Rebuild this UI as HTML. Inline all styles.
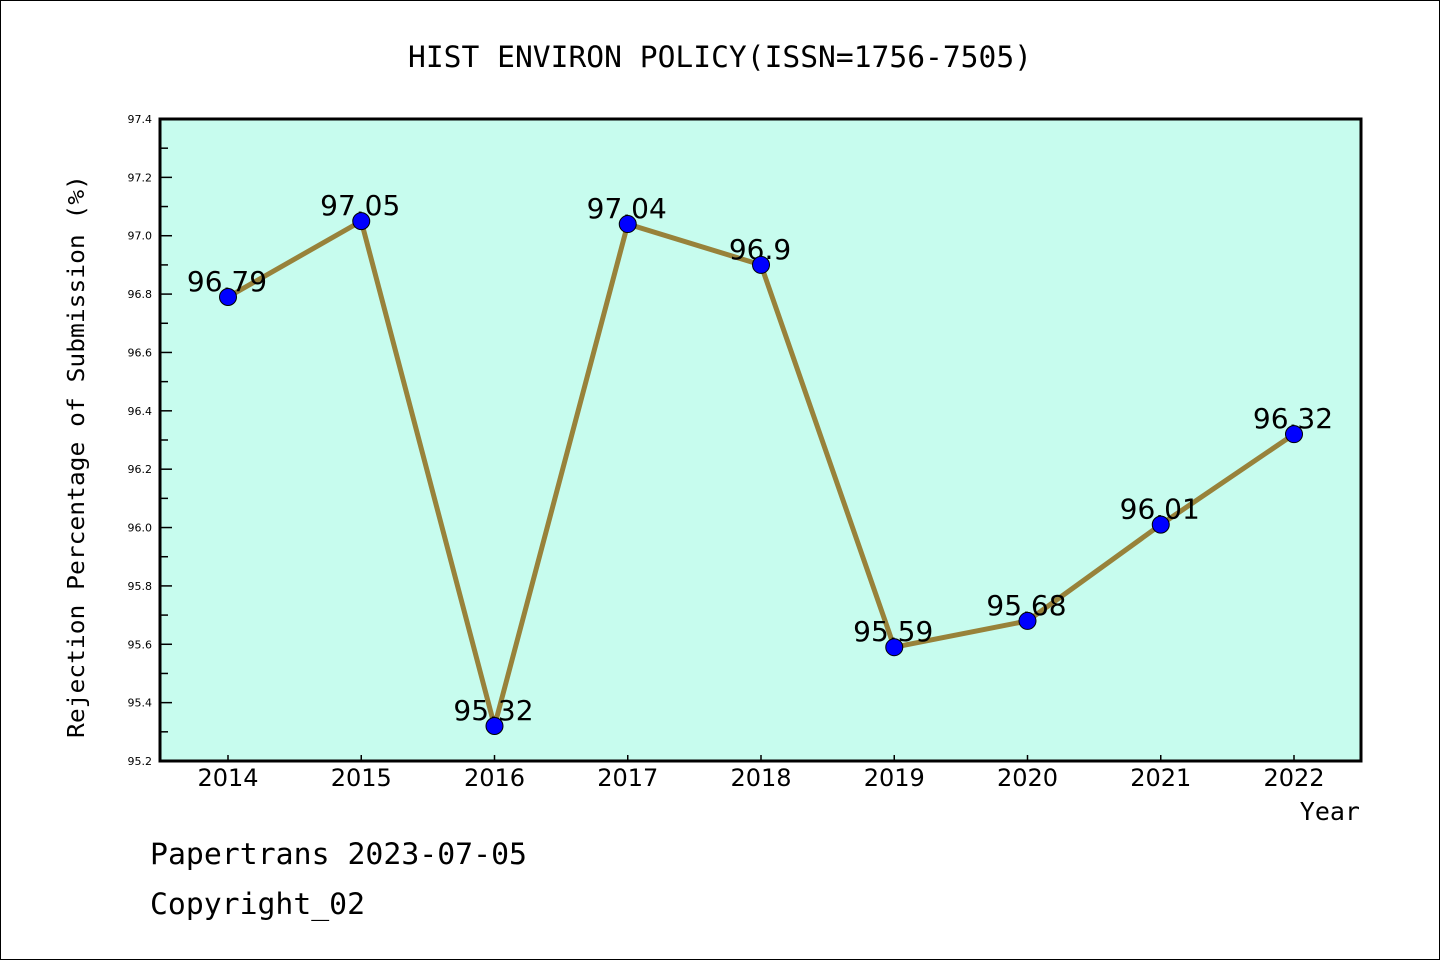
<!DOCTYPE html>
<html><head><meta charset="utf-8"><style>
html,body{margin:0;padding:0;background:#fff}
svg{display:block}
.m{font-family:"DejaVu Sans Mono","Liberation Mono",monospace}
.s{font-family:"DejaVu Sans","Liberation Sans",sans-serif}
</style></head><body>
<svg id="c" width="1440" height="960" xmlns="http://www.w3.org/2000/svg">
<rect x="0.5" y="0.5" width="1439" height="959" fill="#fff" stroke="#000"/>
<text class="m" x="408" y="67" font-size="29" textLength="624" lengthAdjust="spacingAndGlyphs">HIST ENVIRON POLICY(ISSN=1756-7505)</text>
<rect x="160" y="119" width="1201" height="642" fill="#c7fcee"/>
<g id="ticks"></g>
<g id="series"></g>
<rect x="160" y="119" width="1201" height="642" fill="none" stroke="#000" stroke-width="3"/>
<text class="m" transform="translate(84,738) rotate(-90)" font-size="23" textLength="563" lengthAdjust="spacingAndGlyphs">Rejection Percentage of Submission (%)</text>
<text class="m" x="1360" y="820" font-size="25" text-anchor="end">Year</text>
<text class="m" x="150" y="864" font-size="29" textLength="377" lengthAdjust="spacingAndGlyphs">Papertrans 2023-07-05</text>
<text class="m" x="150" y="914" font-size="29" textLength="215" lengthAdjust="spacingAndGlyphs">Copyright_02</text>
</svg>
<script>
const years = ['2014','2015','2016','2017','2018','2019','2020','2021','2022'];
const values = [96.79,97.05,95.32,97.04,96.9,95.59,95.68,96.01,96.32];
const valueLabels = ['96.79','97.05','95.32','97.04','96.9','95.59','95.68','96.01','96.32'];
const yTicks = ['95.2','95.4','95.6','95.8','96.0','96.2','96.4','96.6','96.8','97.0','97.2','97.4'];
const NS='http://www.w3.org/2000/svg';
const x0=160,x1=1361,y0=119,y1=761,yMin=95.2,yMax=97.4;
const X=i=>228+i*(1294-228)/(years.length-1);
const Y=v=>y1-(v-yMin)/(yMax-yMin)*(y1-y0);
function mk(t,a,p){const e=document.createElementNS(NS,t);for(const k in a)e.setAttribute(k,a[k]);p.appendChild(e);return e;}
const tg=document.getElementById('ticks'),sg=document.getElementById('series');
yTicks.forEach((t,i)=>{const v=parseFloat(t),y=Y(v);
 const l=mk('line',{x1:x0,x2:x0+12,y1:y,y2:y,stroke:'#000','stroke-width':1.5},tg);
 
 
 const tx=mk('text',{x:152,y:y+4,'font-size':11,'text-anchor':'end',class:'s'},tg);tx.textContent=t;
 
 
 if(i<yTicks.length-1){const ym=Y(v+0.1);
  const m=mk('line',{x1:x0,x2:x0+8,y1:ym,y2:ym,stroke:'#000','stroke-width':1.5},tg);
  
  }
});
years.forEach((yr,i)=>{const x=X(i);
 const l=mk('line',{x1:x,x2:x,y1:y1,y2:y1-6,stroke:'#000','stroke-width':1.5},tg);
 
 
 const t=mk('text',{x:x,y:786,'font-size':24,'text-anchor':'middle',class:'s'},tg);t.textContent=yr;
 
 
});
const pl=mk('polyline',{points:values.map((v,i)=>X(i)+','+Y(v)).join(' '),fill:'none',stroke:'#98823a','stroke-width':5,'stroke-linejoin':'round'},sg);


values.forEach((v,i)=>{
 const t=mk('text',{x:X(i)-1,y:Y(v)-6,'font-size':28,'text-anchor':'middle',class:'s'},sg);t.textContent=valueLabels[i];
 
 
});
values.forEach((v,i)=>{
 const c=mk('circle',{cx:X(i),cy:Y(v),r:8.5,fill:'#0000ff',stroke:'#000','stroke-width':1},sg);
 
 
});
</script>
</body></html>
